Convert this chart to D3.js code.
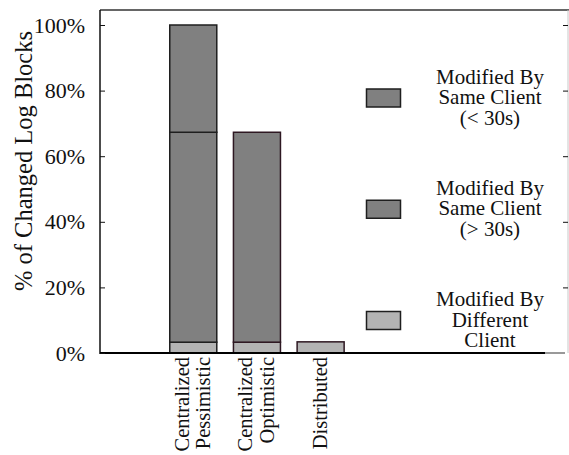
<!DOCTYPE html>
<html>
<head>
<meta charset="utf-8">
<script src="https://cdn.jsdelivr.net/npm/d3@7"></script>
</head>
<body style="margin:0">
<svg id="chart" width="569" height="455"></svg>
<script>
// ---- data ----
const categories = ["Centralized Pessimistic", "Centralized Optimistic", "Distributed"];
const categoryLines = [["Centralized", "Pessimistic"], ["Centralized", "Optimistic"], ["Distributed"]];
const seriesKeys = ["different", "sameGt30", "sameLt30"];
const seriesLabels = [
  ["Modified By", "Different", "Client"],
  ["Modified By", "Same Client", "(> 30s)"],
  ["Modified By", "Same Client", "(< 30s)"]
];
const differentClient = [3.3, 3.3, 3.4];
const sameClientGt30 = [64.0, 64.0, 0];
const sameClientLt30 = [32.7, 0, 0];
const yTicks = [0, 20, 40, 60, 80, 100];
const yLabel = "% of Changed Log Blocks";

// ---- build ----
const rows = categories.map((c, i) => ({
  cat: c, different: differentClient[i], sameGt30: sameClientGt30[i], sameLt30: sameClientLt30[i]
}));
const stacked = d3.stack().keys(seriesKeys)(rows);

const svg = d3.select("#chart");
const L = 100, R = 568, T = 10, B = 353;

const y = d3.scaleLinear().domain([0, 100]).range([B, 25]);
const x = d3.scaleBand().domain(categories).range([153.6, 360.3]).paddingInner(0.246).paddingOuter(0.246);

const fills = { different: "#b3b3b3", sameGt30: "#808080", sameLt30: "#808080" };
const strokes = ["#1e1e1e", "#2e1822", "#2e1822"];

function txt(sel, size) {
  return sel.attr("font-size", size).attr("fill", "#111").style("font-family", "Liberation Serif");
}

// bars
stacked.forEach(layer => {
  svg.append("g").selectAll("rect")
    .data(layer.filter(d => d[1] - d[0] > 0))
    .join("rect")
    .attr("x", d => x(d.data.cat) + 0.5)
    .attr("y", d => y(d[1]))
    .attr("width", x.bandwidth() - 1)
    .attr("height", d => y(d[0]) - y(d[1]))
    .attr("fill", fills[layer.key])
    .attr("stroke", d => strokes[categories.indexOf(d.data.cat)])
    .attr("stroke-width", 1.5);
});

// frame
svg.append("line").attr("x1", L).attr("x2", 569).attr("y1", T).attr("y2", T).attr("stroke", "#333").attr("stroke-width", 1.5);
svg.append("line").attr("x1", R).attr("x2", R).attr("y1", T).attr("y2", B).attr("stroke", "#c8c8c8").attr("stroke-width", 1);
svg.append("line").attr("x1", L).attr("x2", L).attr("y1", T).attr("y2", B + 1).attr("stroke", "#111").attr("stroke-width", 1.5);
svg.append("line").attr("x1", 545).attr("x2", 565).attr("y1", B).attr("y2", B).attr("stroke", "#999").attr("stroke-width", 2);
svg.append("line").attr("x1", L).attr("x2", 545).attr("y1", B).attr("y2", B).attr("stroke", "#000").attr("stroke-width", 2);

// left axis (ticks inward)
const yAxisL = d3.axisLeft(y).tickValues(yTicks).tickSizeInner(-5).tickSizeOuter(0).tickPadding(15)
  .tickFormat(d => d + "%");
const gL = svg.append("g").attr("transform", `translate(${L},0)`).call(yAxisL);
gL.attr("font-family", null).attr("font-size", null);
gL.select(".domain").remove();
gL.selectAll(".tick line").attr("stroke", "#111");
txt(gL.selectAll(".tick text"), 22);

// right axis (ticks inward, no labels)
const yAxisR = d3.axisRight(y).tickValues(yTicks.filter(t => t > 0)).tickSizeInner(-5).tickSizeOuter(0).tickFormat("");
const gR = svg.append("g").attr("transform", `translate(${R},0)`).call(yAxisR);
gR.select(".domain").remove();
gR.selectAll(".tick line").attr("stroke", "#111");

// y label
txt(svg.append("text")
  .attr("transform", "translate(32,161) rotate(-90)")
  .attr("text-anchor", "middle")
  .text(yLabel), 24.5);

// category labels (rotated, multi-line via tspans)
const lh = 21.5;
categories.forEach((c, i) => {
  const lines = categoryLines[i];
  const cx = x(c) + x.bandwidth() / 2;
  const first = cx + 6 - (lines.length - 1) / 2 * lh;
  const t = txt(svg.append("text")
    .attr("transform", `translate(${first},357) rotate(-90)`)
    .attr("text-anchor", "end"), 20.5);
  lines.forEach((s, j) => {
    t.append("tspan").attr("x", 0).attr("y", j * lh).text(s);
  });
});

// legend
const legendY = d3.scalePoint().domain(["sameLt30", "sameGt30", "different"]).range([98, 320.5]);
seriesKeys.forEach((k, i) => {
  const cy = legendY(k);
  svg.append("rect")
    .attr("x", 366.5).attr("y", cy - 9).attr("width", 34).attr("height", 18)
    .attr("fill", fills[k]).attr("stroke", "#1e1e1e").attr("stroke-width", 1.5);
  const t = txt(svg.append("text").attr("text-anchor", "middle"), 21);
  seriesLabels[i].forEach((s, j) => {
    t.append("tspan").attr("x", 490).attr("y", cy + 6 + (j - 1) * 20.5).text(s);
  });
});
</script>
</body>
</html>
